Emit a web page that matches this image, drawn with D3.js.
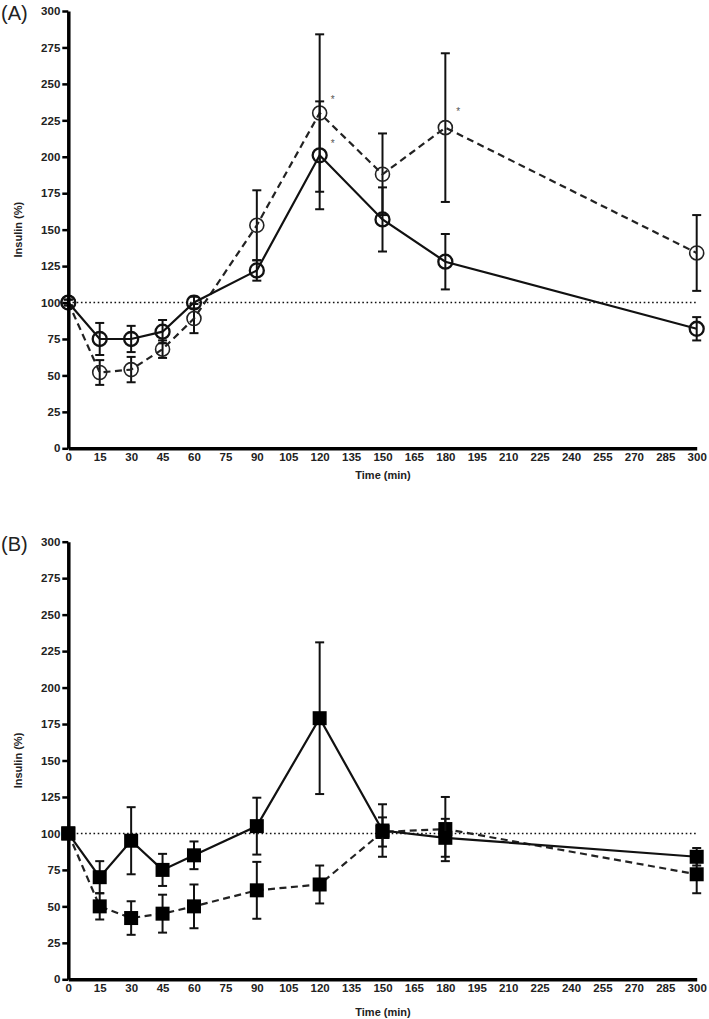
<!DOCTYPE html>
<html>
<head>
<meta charset="utf-8">
<script src="https://cdn.jsdelivr.net/npm/d3@7"></script>
<style>
  body { margin: 0; background: #fff; }
  svg { display: block; }
  text { font-family: "Liberation Sans", Arial, sans-serif; }
</style>
</head>
<body>
<svg id="chart" width="709" height="1019"></svg>
<script>
// ---- data ----
const times = [0, 15, 30, 45, 60, 90, 120, 150, 180, 300];
const xTicks = [0,15,30,45,60,75,90,105,120,135,150,165,180,195,210,225,240,255,270,285,300];
const yTicks = [0,25,50,75,100,125,150,175,200,225,250,275,300];

// Panel A (open circles)
const aSolidMean = [100, 75, 75, 80, 100, 122, 201, 157, 128, 82];
const aSolidErr  = [2, 11, 9, 8, 4, 7, 37, 22, 19, 8];
const aDashMean  = [100, 52, 54, 68, 89, 153, 230, 188, 220, 134];
const aDashErr   = [2, 8.5, 8.7, 6, 10, 24, 54, 28, 51, 26];

// Panel B (filled squares)
const bSolidMean = [100, 70, 95, 75, 85, 105, 179, 102, 97, 84];
const bSolidErr  = [2, 11, 23, 11, 9.5, 19.5, 52, 18, 13, 6];
const bDashMean  = [100, 50, 42, 45, 50, 61, 65, 101, 103, 72];
const bDashErr   = [2, 9, 11.5, 13, 15, 19.5, 13, 10, 22, 13];

// asterisks (time, value) in panel A
const starsA = [[120, 240], [120, 210], [180, 232]];

const svg = d3.select("#chart");
const x = d3.scaleLinear().domain([0, 300]).range([68.3, 696.7]);

function panel(cfg) {
  const y = d3.scaleLinear().domain([0, 300]).range([cfg.y0, cfg.y1]);
  const g = svg.append("g");

  // reference dotted line at 100
  g.append("line")
    .attr("x1", x(0)).attr("x2", x(300))
    .attr("y1", y(100)).attr("y2", y(100))
    .attr("stroke", "#111").attr("stroke-width", 1.6)
    .attr("stroke-dasharray", "1.6,2.6");

  const series = [
    {mean: cfg.dashMean, err: cfg.dashErr, dash: "7,4.5", mw: 1.6, col: "#222"},
    {mean: cfg.solidMean, err: cfg.solidErr, dash: null, mw: 2.3, col: "#111"}
  ];

  series.forEach(s => {
    const pts = times.map((t, i) => ({t, v: s.mean[i], e: s.err[i]}));
    // error bars
    const eb = g.append("g");
    pts.forEach(p => {
      const cx = x(p.t);
      eb.append("line").attr("x1", cx).attr("x2", cx)
        .attr("y1", y(p.v + p.e)).attr("y2", y(p.v - p.e))
        .attr("stroke", "#111").attr("stroke-width", 2);
      [p.v + p.e, p.v - p.e].forEach(v => {
        eb.append("line").attr("x1", cx - 4.5).attr("x2", cx + 4.5)
          .attr("y1", y(v)).attr("y2", y(v))
          .attr("stroke", "#111").attr("stroke-width", 2);
      });
    });
    // line
    g.append("path").datum(pts)
      .attr("d", d3.line().x(d => x(d.t)).y(d => y(d.v)))
      .attr("fill", "none").attr("stroke", s.col)
      .attr("stroke-width", 2.2)
      .attr("stroke-dasharray", s.dash);
    // markers
    if (cfg.marker === "circle") {
      g.selectAll(null).data(pts).enter().append("circle")
        .attr("cx", d => x(d.t)).attr("cy", d => y(d.v)).attr("r", 7)
        .attr("fill", "none").attr("stroke", s.col).attr("stroke-width", s.mw);
    } else {
      g.selectAll(null).data(pts).enter().append("rect")
        .attr("x", d => x(d.t) - 7).attr("y", d => y(d.v) - 7)
        .attr("width", 14).attr("height", 14)
        .attr("fill", "#000");
    }
  });

  // y axis
  const ya = g.append("g").attr("transform", `translate(${x(0)},0)`)
    .call(d3.axisLeft(y).tickValues(yTicks).tickSize(6).tickSizeOuter(0).tickPadding(2));
  ya.select(".domain").attr("stroke", "#000").attr("stroke-width", 3.5);
  ya.selectAll(".tick line").attr("stroke", "#000").attr("stroke-width", 2.5);
  ya.selectAll(".tick text").attr("font-size", 11.5).attr("font-weight", "bold")
    .attr("fill", "#222").attr("font-family", "Liberation Sans, Arial, sans-serif");

  // x axis
  const xa = g.append("g").attr("transform", `translate(0,${y(0)})`)
    .call(d3.axisBottom(x).tickValues(xTicks).tickSize(0).tickSizeOuter(0).tickPadding(cfg.xpad));
  xa.select(".domain").attr("stroke", "#000").attr("stroke-width", 3.5);
  xa.selectAll(".tick text").attr("font-size", 11.5).attr("font-weight", "bold")
    .attr("fill", "#222").attr("font-family", "Liberation Sans, Arial, sans-serif");

  // axis titles
  g.append("text").attr("x", 383).attr("y", cfg.titleY)
    .attr("text-anchor", "middle").attr("font-size", 11).attr("font-weight", "bold")
    .attr("fill", "#222").text("Time (min)");
  g.append("text")
    .attr("transform", `translate(22,${(cfg.y0 + cfg.y1) / 2}) rotate(-90)`)
    .attr("text-anchor", "middle").attr("font-size", 11).attr("font-weight", "bold")
    .attr("fill", "#222").text("Insulin (%)");

  // panel label
  g.append("text").attr("x", 1).attr("y", cfg.y1 + 9)
    .attr("font-size", 20).attr("fill", "#222").text(cfg.label);

  return {g, y};
}

const A = panel({y0: 448.3, y1: 11, label: "(A)", marker: "circle",
  solidMean: aSolidMean, solidErr: aSolidErr, dashMean: aDashMean, dashErr: aDashErr,
  xpad: 5, titleY: 479});
const B = panel({y0: 979.3, y1: 541.7, label: "(B)", marker: "square",
  solidMean: bSolidMean, solidErr: bSolidErr, dashMean: bDashMean, dashErr: bDashErr,
  xpad: 5, titleY: 1016});

A.g.selectAll(null).data(starsA).enter().append("text")
  .attr("x", d => x(d[0]) + 11).attr("y", d => A.y(d[1]) + 5)
  .attr("font-size", 10).attr("fill", "#555").text("*");
</script>
</body>
</html>
